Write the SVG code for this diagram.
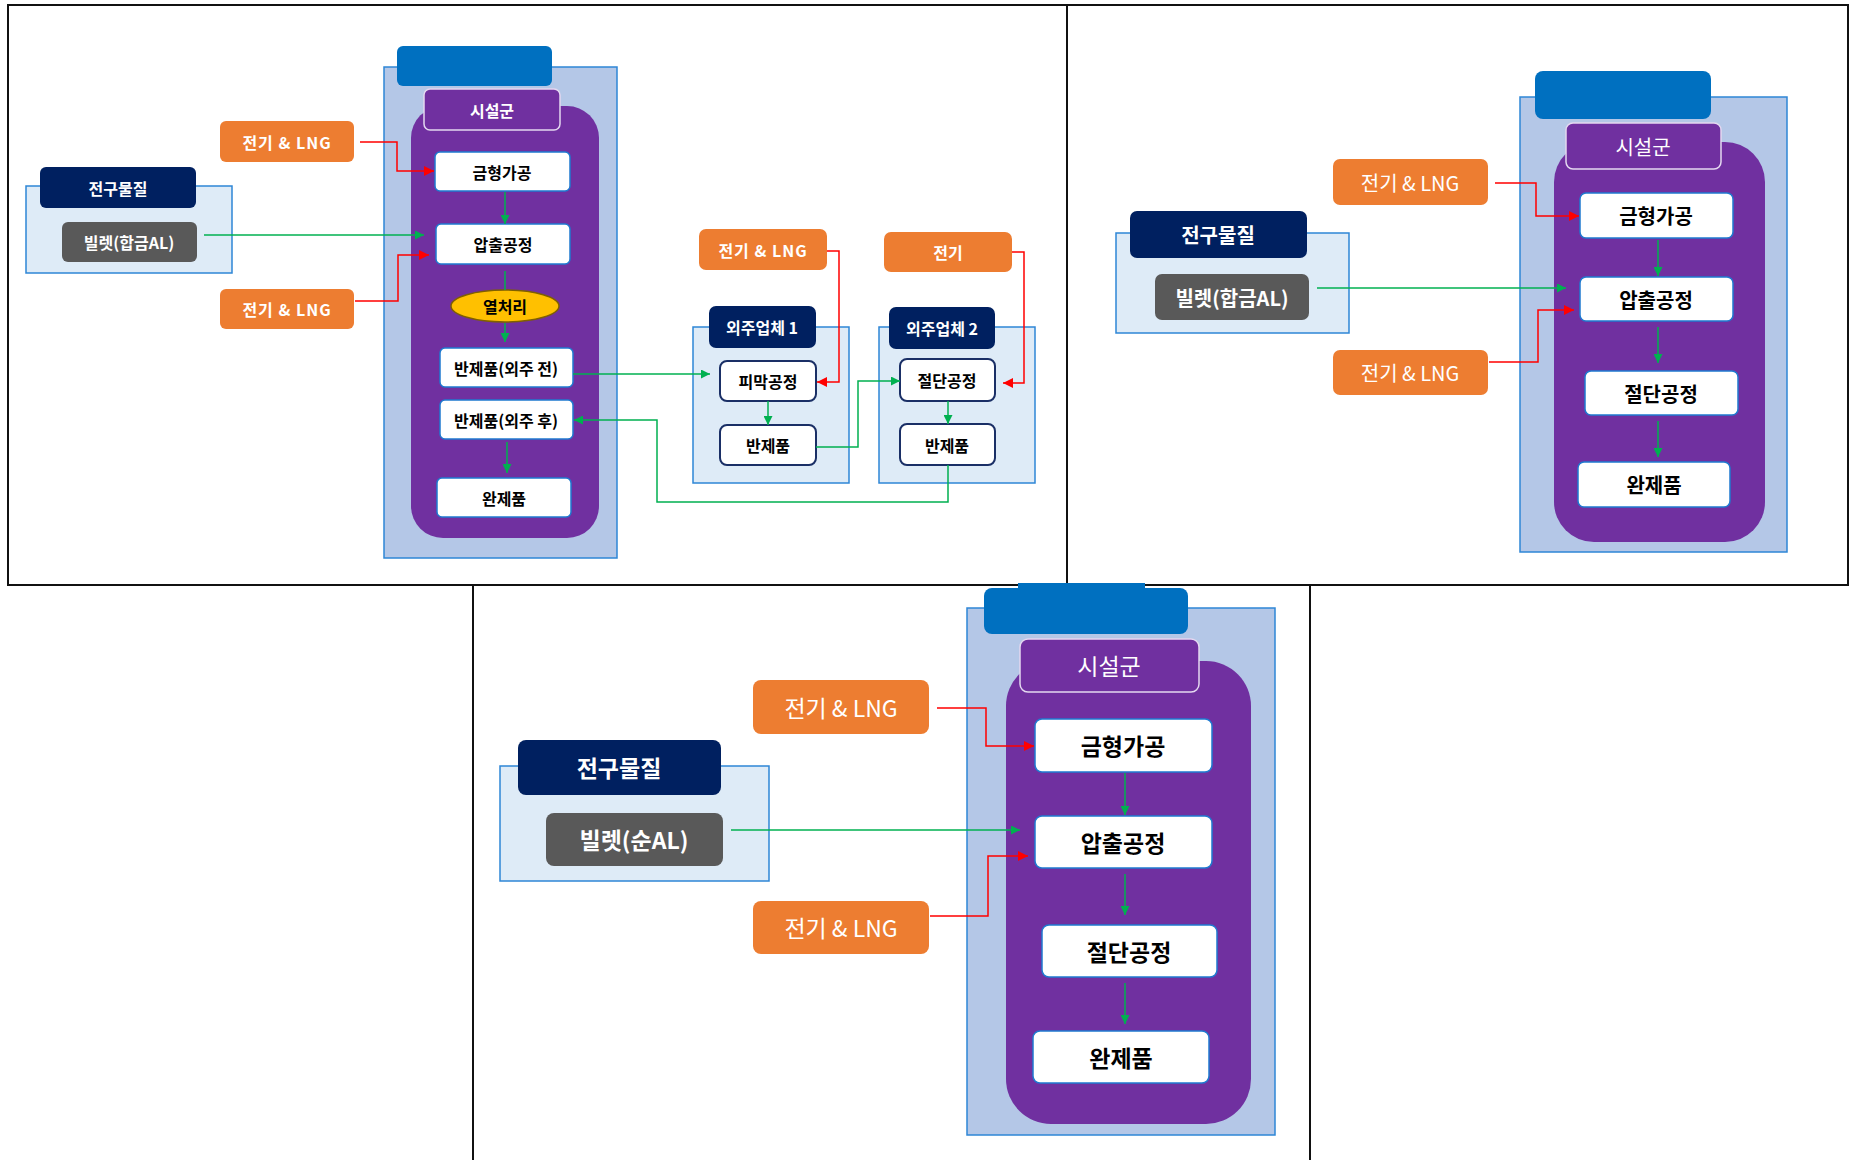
<svg xmlns="http://www.w3.org/2000/svg" width="1854" height="1160" viewBox="0 0 1854 1160">
<style>
.panel{fill:none;stroke:#111;stroke-width:2}
.btab{fill:#0070C0}
.cont{fill:#B4C7E7;stroke:#2E86D6;stroke-width:1.5}
.purple{fill:#7030A0}
.sisul{fill:#7030A0;stroke:#E4D8F0;stroke-width:1.5}
.wbox{fill:#fff;stroke:#1F7AD0;stroke-width:1.5}
.orange{fill:#ED7D31}
.navy{fill:#002060}
.gray{fill:#595959}
.pre{fill:#DEEBF7;stroke:#2E86D6;stroke-width:1.5}
.obox{fill:#fff;stroke:#1A2F66;stroke-width:2}
.heat{fill:#FFC000;stroke:#7F6000;stroke-width:1.5}
.g{fill:none;stroke:#00B050;stroke-width:1.5}
.r{fill:none;stroke:#FF0000;stroke-width:1.5}
text{font-family:"Noto Sans CJK KR","Malgun Gothic",sans-serif;text-anchor:middle;dominant-baseline:central}
.tw{fill:#fff;font-weight:bold}
.tn{fill:#fff;font-weight:normal}
.tb{fill:#000;font-weight:bold}
.s15{font-size:16px}
.s18{font-size:20px}
.s21{font-size:23px}
</style>
<defs>
<marker id="ag" viewBox="0 0 10 10" refX="10" refY="5" markerUnits="userSpaceOnUse" markerWidth="9" markerHeight="9" orient="auto"><path d="M0,0 L10,5 L0,10 z" fill="#00B050"/></marker>
<marker id="ar" viewBox="0 0 10 10" refX="10" refY="5" markerUnits="userSpaceOnUse" markerWidth="10" markerHeight="10" orient="auto"><path d="M0,0 L10,5 L0,10 z" fill="#FF0000"/></marker>
</defs>
<rect width="1854" height="1160" fill="#fff"/>
<g id="panels">
<rect class="panel" x="8" y="5" width="1059" height="580"/>
<rect class="panel" x="1067" y="5" width="781" height="580"/>
<path class="panel" d="M473,585 V1160 M1310,585 V1160"/>
</g>
<!-- Panel A -->
<g id="a-facility">
<rect class="cont" x="384" y="67" width="233" height="491"/>
<rect class="btab" x="397" y="46" width="155" height="40" rx="6"/>
<rect class="purple" x="411" y="106" width="188" height="432" rx="32"/>
</g>
<g id="a-sisul"><rect class="sisul" x="424" y="89" width="136" height="41" rx="6"/><text class="tw s15" x="492" y="110">시설군</text></g>
<g id="a-mold"><rect class="wbox" x="435" y="152" width="135" height="39" rx="5"/><text class="tb s15" x="502" y="172">금형가공</text></g>
<g id="a-extr"><rect class="wbox" x="436" y="224" width="134" height="40" rx="5"/><text class="tb s15" x="503" y="244">압출공정</text></g>
<g id="a-heat"><ellipse class="heat" cx="505" cy="306" rx="54" ry="16"/><text class="tb s15" x="505" y="306">열처리</text></g>
<g id="a-semi1"><rect class="wbox" x="440" y="348" width="133" height="39" rx="5"/><text class="tb s15" x="506" y="368">반제품(외주 전)</text></g>
<g id="a-semi2"><rect class="wbox" x="440" y="400" width="133" height="39" rx="5"/><text class="tb s15" x="506" y="420">반제품(외주 후)</text></g>
<g id="a-final"><rect class="wbox" x="437" y="478" width="134" height="39" rx="5"/><text class="tb s15" x="504" y="498">완제품</text></g>
<g id="a-energy1"><rect class="orange" x="220" y="121" width="134" height="41" rx="6"/><text class="tw s15" x="287" y="142" letter-spacing="1">전기 &amp; LNG</text></g>
<g id="a-energy2"><rect class="orange" x="220" y="289" width="134" height="40" rx="6"/><text class="tw s15" x="287" y="309" letter-spacing="1">전기 &amp; LNG</text></g>
<g id="a-pre"><rect class="pre" x="26" y="186" width="206" height="87"/><rect class="navy" x="40" y="167" width="156" height="41" rx="6"/><text class="tw s15" x="118" y="188">전구물질</text></g>
<g id="a-billet"><rect class="gray" x="62" y="222" width="135" height="40" rx="6"/><text class="tw s15" x="129" y="242">빌렛(합금AL)</text></g>
<g id="o1-energy"><rect class="orange" x="699" y="229" width="128" height="41" rx="7"/><text class="tw s15" x="763" y="250" letter-spacing="1">전기 &amp; LNG</text></g>
<g id="o1"><rect class="pre" x="693" y="327" width="156" height="156"/><rect class="navy" x="709" y="306" width="107" height="42" rx="7"/><text class="tw s15" x="762" y="327">외주업체 1</text></g>
<g id="o1-coat"><rect class="obox" x="720" y="361" width="96" height="40" rx="7"/><text class="tb s15" x="768" y="381">피막공정</text></g>
<g id="o1-semi"><rect class="obox" x="720" y="425" width="96" height="40" rx="7"/><text class="tb s15" x="768" y="445">반제품</text></g>
<g id="o2-energy"><rect class="orange" x="884" y="232" width="128" height="40" rx="7"/><text class="tw s15" x="948" y="252">전기</text></g>
<g id="o2"><rect class="pre" x="879" y="327" width="156" height="156"/><rect class="navy" x="889" y="307" width="106" height="42" rx="7"/><text class="tw s15" x="942" y="328">외주업체 2</text></g>
<g id="o2-cut"><rect class="obox" x="900" y="359" width="95" height="42" rx="7"/><text class="tb s15" x="947" y="380">절단공정</text></g>
<g id="o2-semi"><rect class="obox" x="900" y="424" width="95" height="41" rx="7"/><text class="tb s15" x="947" y="445">반제품</text></g>
<!-- Panel B -->
<g id="b-facility">
<rect class="cont" x="1520" y="97" width="267" height="455"/>
<rect class="btab" x="1535" y="71" width="176" height="48" rx="8"/>
<rect class="purple" x="1554" y="142" width="211" height="400" rx="40"/>
</g>
<g id="b-sisul"><rect class="sisul" x="1566" y="123" width="155" height="46" rx="7"/><text class="tn s18" x="1643" y="146">시설군</text></g>
<g id="b-mold"><rect class="wbox" x="1580" y="193" width="153" height="45" rx="6"/><text class="tb s18" x="1656" y="215">금형가공</text></g>
<g id="b-extr"><rect class="wbox" x="1580" y="277" width="153" height="44" rx="6"/><text class="tb s18" x="1656" y="299">압출공정</text></g>
<g id="b-cut"><rect class="wbox" x="1585" y="371" width="153" height="44" rx="6"/><text class="tb s18" x="1661" y="393">절단공정</text></g>
<g id="b-final"><rect class="wbox" x="1578" y="462" width="152" height="45" rx="6"/><text class="tb s18" x="1654" y="484">완제품</text></g>
<g id="b-energy1"><rect class="orange" x="1333" y="159" width="155" height="46" rx="7"/><text class="tn s18" x="1410" y="182">전기 &amp; LNG</text></g>
<g id="b-energy2"><rect class="orange" x="1333" y="350" width="155" height="45" rx="7"/><text class="tn s18" x="1410" y="372">전기 &amp; LNG</text></g>
<g id="b-pre"><rect class="pre" x="1116" y="233" width="233" height="100"/><rect class="navy" x="1130" y="211" width="177" height="47" rx="7"/><text class="tw s18" x="1218" y="234">전구물질</text></g>
<g id="b-billet"><rect class="gray" x="1155" y="274" width="154" height="46" rx="7"/><text class="tw s18" x="1232" y="297">빌렛(합금AL)</text></g>
<!-- Panel C -->
<g id="c-facility">
<rect class="cont" x="967" y="608" width="308" height="527"/>
<rect class="btab" x="984" y="588" width="204" height="46" rx="8"/>
<rect class="btab" x="1018" y="583" width="127" height="12"/>
<rect class="purple" x="1006" y="661" width="245" height="463" rx="45"/>
</g>
<g id="c-sisul"><rect class="sisul" x="1020" y="639" width="179" height="53" rx="8"/><text class="tn s21" x="1109" y="665">시설군</text></g>
<g id="c-mold"><rect class="wbox" x="1035" y="719" width="177" height="53" rx="7"/><text class="tb s21" x="1123" y="745">금형가공</text></g>
<g id="c-extr"><rect class="wbox" x="1035" y="816" width="177" height="52" rx="7"/><text class="tb s21" x="1123" y="842">압출공정</text></g>
<g id="c-cut"><rect class="wbox" x="1042" y="925" width="175" height="52" rx="7"/><text class="tb s21" x="1129" y="951">절단공정</text></g>
<g id="c-final"><rect class="wbox" x="1033" y="1031" width="176" height="52" rx="7"/><text class="tb s21" x="1121" y="1057">완제품</text></g>
<g id="c-energy1"><rect class="orange" x="753" y="680" width="176" height="54" rx="8"/><text class="tn s21" x="841" y="707">전기 &amp; LNG</text></g>
<g id="c-energy2"><rect class="orange" x="753" y="901" width="176" height="53" rx="8"/><text class="tn s21" x="841" y="927">전기 &amp; LNG</text></g>
<g id="c-pre"><rect class="pre" x="500" y="766" width="269" height="115"/><rect class="navy" x="518" y="740" width="203" height="55" rx="8"/><text class="tw s21" x="619" y="767">전구물질</text></g>
<g id="c-billet"><rect class="gray" x="546" y="813" width="177" height="53" rx="8"/><text class="tw s21" x="634" y="839">빌렛(순AL)</text></g>
<g id="connectors">
<path class="r" d="M360,142 H397 V171 H434" marker-end="url(#ar)"/>
<path class="g" d="M204,235 H424" marker-end="url(#ag)"/>
<path class="r" d="M355,301 H398 V255 H429" marker-end="url(#ar)"/>
<path class="g" d="M505,192 V224" marker-end="url(#ag)"/>
<path class="g" d="M505,271 V290"/>
<path class="g" d="M505,323 V342" marker-end="url(#ag)"/>
<path class="g" d="M507,442 V473" marker-end="url(#ag)"/>
<path class="g" d="M573,374 H710" marker-end="url(#ag)"/>
<path class="g" d="M948,465 V502 H657 V420 H574" marker-end="url(#ag)"/>
<path class="r" d="M827,251 H839 V382 H817" marker-end="url(#ar)"/>
<path class="g" d="M768,401 V425" marker-end="url(#ag)"/>
<path class="g" d="M816,447 H858 V381 H900" marker-end="url(#ag)"/>
<path class="r" d="M1012,252 H1024 V383 H1003" marker-end="url(#ar)"/>
<path class="g" d="M948,401 V424" marker-end="url(#ag)"/>
<path class="r" d="M1495,183 H1536 V216 H1579" marker-end="url(#ar)"/>
<path class="g" d="M1317,288 H1566" marker-end="url(#ag)"/>
<path class="r" d="M1489,362 H1538 V310 H1574" marker-end="url(#ar)"/>
<path class="g" d="M1658,240 V276" marker-end="url(#ag)"/>
<path class="g" d="M1658,327 V363" marker-end="url(#ag)"/>
<path class="g" d="M1658,421 V457" marker-end="url(#ag)"/>
<path class="r" d="M937,708 H986 V746 H1034" marker-end="url(#ar)"/>
<path class="g" d="M731,830 H1020" marker-end="url(#ag)"/>
<path class="r" d="M930,916 H988 V856 H1028" marker-end="url(#ar)"/>
<path class="g" d="M1125,773 V815" marker-end="url(#ag)"/>
<path class="g" d="M1125,874 V915" marker-end="url(#ag)"/>
<path class="g" d="M1125,983 V1024" marker-end="url(#ag)"/>
</g>
</svg>
